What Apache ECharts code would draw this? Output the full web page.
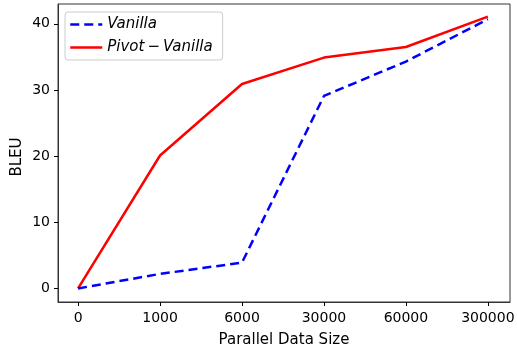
<!DOCTYPE html>
<html>
<head>
<meta charset="utf-8">
<script src="https://cdn.jsdelivr.net/npm/echarts@6/dist/echarts.min.js"></script>
<style>
html, body { margin: 0; padding: 0; background: #fff; }
#chart { width: 517px; height: 352px; }
</style>
</head>
<body>
<div id="chart"></div>
<script>
// x categories (evenly spaced in the figure)
const sizeLabels = ['0', '1000', '6000', '30000', '60000', '300000']
const vanilla = [0, 2.2, 3.9, 29.1, 34.3, 40.7]
const pivotVanilla = [0, 20.1, 30.9, 34.9, 36.5, 41.1]
const yTicks = [0, 10, 20, 30, 40]

const fontColor = '#000'
const font = 'DejaVu Sans'
const xIdx = sizeLabels.map((_, i) => i)
const pivotName = 'Pivot\u2009\u2212\u2009Vanilla'

const myChart = echarts.init(document.getElementById('chart'))
const option = {
    backgroundColor: '#fff',
    animation: false,
    textStyle: { fontFamily: font },
    grid: {
        left: 58,
        right: 7,
        top: 4,
        bottom: 50,
        outerBoundsMode: 'none',
        containLabel: false,
        show: true,
        borderColor: '#333',
        borderWidth: 1
    },
    legend: {
        orient: 'vertical',
        left: 65,
        top: 12,
        padding: [5, 10, 5, 4],
        itemGap: 8,
        itemWidth: 32,
        itemHeight: 14,
        borderColor: '#ccc',
        borderWidth: 1,
        borderRadius: 3,
        backgroundColor: 'rgba(255,255,255,0.8)',
        itemStyle: { opacity: 0 },
        lineStyle: { width: 2.5 },
        textStyle: { fontFamily: font, fontSize: 15, fontStyle: 'italic', color: fontColor },
        data: ['Vanilla', pivotName]
    },
    // y axis title
    graphic: [
        {
            type: 'text',
            x: 17,
            y: 157,
            rotation: Math.PI / 2,
            style: {
                text: 'BLEU',
                fontFamily: font,
                fontSize: 15,
                fill: fontColor,
                align: 'center',
                verticalAlign: 'middle'
            }
        }
    ],
    xAxis: {
        type: 'value',
        min: -0.245,
        max: 5.27,
        name: 'Parallel Data Size',
        nameLocation: 'middle',
        nameGap: 31,
        nameTextStyle: { fontFamily: font, fontSize: 15, color: fontColor },
        axisLine: { show: true, onZero: false, lineStyle: { color: '#333' } },
        axisTick: { show: true, length: 4, customValues: xIdx, lineStyle: { color: fontColor } },
        axisLabel: {
            customValues: xIdx,
            margin: 9,
            fontFamily: font,
            fontSize: 14,
            color: fontColor,
            formatter: v => sizeLabels[Math.round(v)]
        },
        splitLine: { show: false }
    },
    yAxis: {
        type: 'value',
        min: -2.05,
        max: 43,
        axisLine: { show: true, onZero: false, lineStyle: { color: '#333' } },
        axisTick: { show: true, length: 4, customValues: yTicks, lineStyle: { color: fontColor } },
        axisLabel: { customValues: yTicks, margin: 8, fontFamily: font, fontSize: 14, color: fontColor },
        splitLine: { show: false }
    },
    series: [
        {
            name: 'Vanilla',
            type: 'line',
            symbol: 'none',
            z: 3,
            lineStyle: { color: '#0000ff', width: 2.5, type: [9, 5] },
            itemStyle: { color: '#0000ff' },
            data: vanilla.map((v, i) => [i, v])
        },
        {
            name: pivotName,
            type: 'line',
            symbol: 'none',
            z: 2,
            lineStyle: { color: '#ff0000', width: 2.5 },
            itemStyle: { color: '#ff0000' },
            data: pivotVanilla.map((v, i) => [i, v])
        }
    ]
}
myChart.setOption(option)
</script>
</body>
</html>
